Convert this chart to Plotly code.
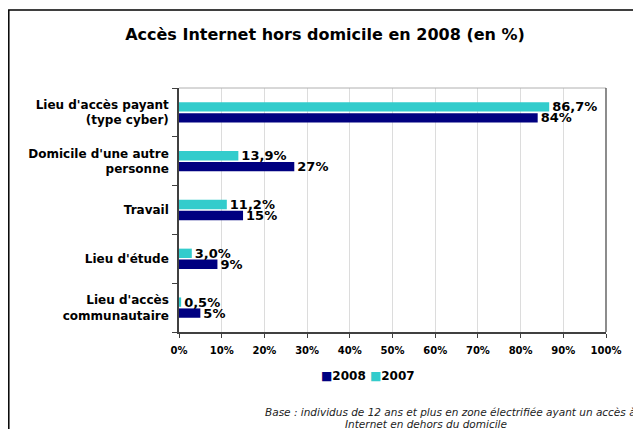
import plotly.graph_objects as go

# categories listed bottom -> top
categories = [
    "Lieu d'accès<br>communautaire",
    "Lieu d'étude",
    "Travail",
    "Domicile d'une autre<br>personne",
    "Lieu d'accès payant<br>(type cyber)",
]
values_2008 = [5, 9, 15, 27, 84]
values_2007 = [0.5, 3.0, 11.2, 13.9, 86.7]
labels_2008 = ["5%", "9%", "15%", "27%", "84%"]
labels_2007 = ["0,5%", "3,0%", "11,2%", "13,9%", "86,7%"]
x_ticks = [0, 10, 20, 30, 40, 50, 60, 70, 80, 90, 100]
x_ticklabels = [f"{t}%" for t in x_ticks]

FONT = "DejaVu Sans"
NAVY = "#000080"
TURQ = "#33CCCC"

# page has an 8px body margin, so the figure is 8px smaller than the window
W, H = 633, 421

fig = go.Figure()
fig.add_bar(
    y=categories, x=values_2008, orientation="h", name="2008",
    marker=dict(color=NAVY, line=dict(width=0)),
    text=labels_2008, textposition="outside", constraintext="none",
    cliponaxis=False,
    textfont=dict(family=FONT, size=13, color="black", weight="bold"),
)
fig.add_bar(
    y=categories, x=values_2007, orientation="h", name="2007",
    marker=dict(color=TURQ, line=dict(width=0)),
    text=labels_2007, textposition="outside", constraintext="none",
    cliponaxis=False,
    textfont=dict(family=FONT, size=13, color="black", weight="bold"),
)

# legend drawn as text: small coloured square + year, tight like the original
legend_text = " ".join(
    f"<span style='color:{tr.marker.color}'>■</span>{tr.name}" for tr in fig.data
)

def px(x):
    # window x pixel -> paper coord (plot area spans 179..606)
    return (x - 179) / 427

def py(y):
    # window y pixel -> paper coord (plot area spans 88..332)
    return (332 - y) / 244

fig.update_layout(
    width=W, height=H,
    margin=dict(l=171, r=35, t=80, b=97),
    paper_bgcolor="white", plot_bgcolor="white",
    barmode="group", bargap=0.55, bargroupgap=0.15,
    font=dict(family=FONT, color="black"),
    showlegend=False,
    title=dict(
        text="Accès Internet hors domicile en 2008 (en %)",
        x=(325 - 8) / W, xanchor="center", y=1 - (34 - 8) / H, yanchor="middle",
        font=dict(family=FONT, size=16, color="black", weight="bold"),
    ),
    xaxis=dict(
        range=[0, 100], tickvals=x_ticks, ticktext=x_ticklabels,
        showgrid=True, gridcolor="#dcdcdc", gridwidth=1,
        showline=True, linecolor="#404040", linewidth=1.5,
        ticks="outside", ticklen=4, tickcolor="#404040",
        tickfont=dict(family=FONT, size=10, weight="bold"),
        ticklabelstandoff=4, zeroline=False, fixedrange=True,
    ),
    yaxis=dict(
        categoryorder="array", categoryarray=categories,
        showline=True, linecolor="#404040", linewidth=1.5,
        ticks="outside", ticklen=5, tickcolor="#404040",
        tickson="boundaries", showgrid=False,
        tickfont=dict(family=FONT, size=12, weight="bold"),
        ticklabelstandoff=6, fixedrange=True,
    ),
    shapes=[
        # outer chart frame (right and bottom edges run off the picture)
        dict(type="rect", xref="paper", yref="paper",
             x0=px(8.8), x1=px(660), y0=py(460), y1=py(10),
             line=dict(color="black", width=1.5), layer="below"),
        # plot area top & right border
        dict(type="line", xref="paper", yref="paper", x0=0, x1=1, y0=1, y1=1,
             line=dict(color="#b0b0b0", width=1)),
        dict(type="line", xref="paper", yref="paper", x0=1, x1=1, y0=0, y1=1,
             line=dict(color="#404040", width=1.2)),
    ],
    annotations=[
        dict(text=legend_text, xref="paper", yref="paper",
             x=px(368), xanchor="center", y=py(376), yanchor="middle",
             showarrow=False,
             font=dict(family=FONT, size=12, weight="bold", color="black")),
        dict(text="Base : individus de 12 ans et plus en zone électrifiée ayant un accès à",
             xref="paper", yref="paper", x=px(263), xanchor="left",
             y=py(412), yanchor="middle", showarrow=False,
             font=dict(family=FONT, size=10.5, style="italic", color="#222222")),
        dict(text="Internet en dehors du domicile",
             xref="paper", yref="paper", x=px(426), xanchor="center",
             y=py(424), yanchor="middle", showarrow=False,
             font=dict(family=FONT, size=10.5, style="italic", color="#222222")),
    ],
)

fig.write_html("out.html")
